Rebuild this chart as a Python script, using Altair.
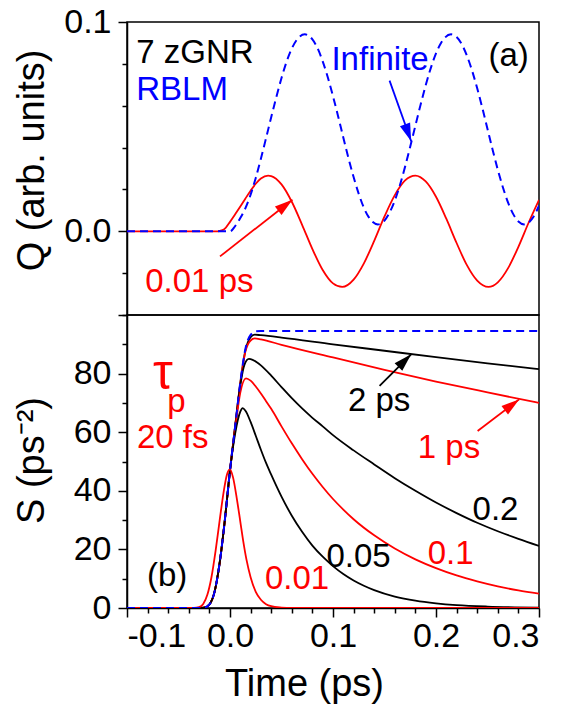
import altair as alt
import pandas as pd

FONT = "Liberation Sans"
RED = "#ff0000"
BLUE = "#0000ff"
BLACK = "#000000"

# ---------------- data ----------------
# Panel (a): Q (arb. units) vs time (ps)
q_red_t = [-0.1, -0.02, -0.012, -0.008, -0.004, 0.0, 0.005, 0.01, 0.015, 0.02, 0.025, 0.03,
           0.037, 0.04, 0.05, 0.06, 0.07, 0.08, 0.09, 0.1, 0.109, 0.12, 0.13, 0.14, 0.15,
           0.16, 0.17, 0.18, 0.19, 0.2, 0.21, 0.22, 0.23, 0.24, 0.251, 0.26, 0.27, 0.28,
           0.29, 0.3]
q_red_v = [0.0, 0.0, 0.0, 0.0004, 0.0018, 0.0045, 0.0081, 0.0118, 0.0157, 0.0194, 0.0227,
           0.0252, 0.0266, 0.0264, 0.0224, 0.0141, 0.0031, -0.0085, -0.0185, -0.0249,
           -0.0266, -0.0231, -0.0153, -0.0046, 0.0071, 0.0173, 0.0243, 0.0266, 0.0238,
           0.0165, 0.0060, -0.0056, -0.0162, -0.0236, -0.0266, -0.0244, -0.0176, -0.0074,
           0.0042, 0.0150]

q_blue_t = [-0.1, 0.0, 0.005, 0.01, 0.015, 0.02, 0.025, 0.03, 0.035, 0.04, 0.045, 0.05,
            0.055, 0.06, 0.065, 0.0726, 0.08, 0.085, 0.09, 0.095, 0.1, 0.105, 0.11, 0.115,
            0.12, 0.125, 0.13, 0.135, 0.1436, 0.15, 0.155, 0.16, 0.165, 0.17, 0.175, 0.18,
            0.185, 0.19, 0.195, 0.2, 0.205, 0.2146, 0.22, 0.225, 0.23, 0.235, 0.24, 0.245,
            0.25, 0.255, 0.26, 0.265, 0.27, 0.275, 0.28, 0.2856, 0.29, 0.295, 0.3]
q_blue_v = [0.0, 0.0, 0.0025, 0.0063, 0.0111, 0.0175, 0.0255, 0.0347, 0.0445, 0.0545,
            0.0642, 0.0732, 0.0811, 0.0873, 0.0916, 0.0941, 0.0917, 0.0875, 0.0812, 0.0735,
            0.0645, 0.0549, 0.0448, 0.0350, 0.0259, 0.0179, 0.0112, 0.0065, 0.0033, 0.0051,
            0.0090, 0.0147, 0.0221, 0.0309, 0.0405, 0.0505, 0.0604, 0.0698, 0.0781, 0.0850,
            0.0901, 0.0941, 0.0928, 0.0894, 0.0839, 0.0768, 0.0683, 0.0589, 0.0489, 0.0389,
            0.0294, 0.0209, 0.0137, 0.0082, 0.0047, 0.0033, 0.0042, 0.0072, 0.0122]

# Panel (b): S (ps^-2) vs time (ps)
s_inf_t = [-0.1, -0.03, -0.025, -0.02, -0.015, -0.01, -0.005, 0.0, 0.005, 0.01, 0.015,
           0.02, 0.025, 0.03, 0.3]
s_inf_v = [0.0, 0.0, 0.1, 1.2, 5.5, 15.5, 30.0, 47.0, 62.0, 77.0, 88.5, 93.2, 94.4, 94.5,
           94.5]

s_2ps_t = [-0.1, -0.03, -0.025, -0.02, -0.015, -0.01, -0.005, 0.0, 0.005, 0.01, 0.015,
           0.02, 0.024, 0.03, 0.05, 0.1, 0.15, 0.2, 0.25, 0.3]
s_2ps_v = [0.0, 0.0, 0.1, 1.2, 5.5, 15.5, 30.0, 47.0, 62.0, 76.8, 88.0, 92.4, 93.3, 93.1,
           92.3, 90.0, 87.8, 85.6, 83.5, 81.5]

s_1ps_t = [-0.1, -0.03, -0.025, -0.02, -0.015, -0.01, -0.005, 0.0, 0.005, 0.01, 0.015,
           0.02, 0.024, 0.03, 0.05, 0.1, 0.15, 0.2, 0.25, 0.3]
s_1ps_v = [0.0, 0.0, 0.1, 1.2, 5.5, 15.5, 30.0, 47.0, 62.0, 76.6, 87.6, 91.3, 92.0, 91.7,
           89.8, 85.5, 81.3, 77.3, 73.6, 70.0]

s_02_t = [-0.1, -0.03, -0.025, -0.02, -0.015, -0.01, -0.005, 0.0, 0.005, 0.01, 0.014,
          0.0184, 0.022, 0.026, 0.03, 0.04, 0.05, 0.06, 0.07, 0.08, 0.09, 0.1, 0.12, 0.14,
          0.16, 0.18, 0.2, 0.22, 0.24, 0.26, 0.28, 0.3]
s_02_v = [0.0, 0.0, 0.1, 1.2, 5.5, 15.5, 30.0, 47.0, 61.8, 76.0, 83.0, 85.0, 84.7, 83.9,
          82.8, 79.3, 75.4, 71.6, 68.1, 64.9, 62.0, 59.0, 53.8, 49.0, 44.3, 40.0, 36.0,
          32.4, 29.1, 26.2, 23.6, 21.2]

s_01_t = [-0.1, -0.03, -0.025, -0.02, -0.015, -0.01, -0.005, 0.0, 0.005, 0.01, 0.0155,
          0.02, 0.025, 0.03, 0.035, 0.04, 0.05, 0.06, 0.07, 0.08, 0.09, 0.1, 0.11, 0.12,
          0.14, 0.16, 0.18, 0.2, 0.22, 0.24, 0.26, 0.28, 0.3]
s_01_v = [0.0, 0.0, 0.1, 1.2, 5.5, 15.5, 30.0, 47.0, 61.0, 73.5, 78.4, 77.6, 75.6, 73.2,
          70.6, 68.0, 62.0, 56.2, 50.8, 45.8, 41.3, 37.2, 33.6, 30.3, 24.8, 20.3, 16.6,
          13.6, 11.1, 9.1, 7.4, 6.0, 4.9]

s_005_t = [-0.1, -0.03, -0.025, -0.02, -0.015, -0.01, -0.005, 0.0, 0.005, 0.01, 0.0123,
           0.015, 0.02, 0.025, 0.03, 0.035, 0.04, 0.05, 0.06, 0.07, 0.08, 0.09, 0.1, 0.11,
           0.12, 0.13, 0.14, 0.16, 0.18, 0.2, 0.22, 0.25, 0.3]
s_005_v = [0.0, 0.0, 0.1, 1.2, 5.5, 15.5, 30.0, 47.0, 59.5, 67.0, 68.2, 67.3, 63.5, 58.8,
           54.0, 49.5, 45.5, 38.0, 31.5, 26.0, 21.3, 17.5, 14.3, 11.6, 9.4, 7.6, 6.1, 3.9,
           2.5, 1.6, 1.0, 0.5, 0.15]

s_001_t = [-0.1, -0.035, -0.03, -0.026, -0.022, -0.018, -0.014, -0.01, -0.006, -0.003, 0.0,
           0.003, 0.0065, 0.01, 0.013, 0.016, 0.02, 0.025, 0.03, 0.035, 0.04, 0.05, 0.06,
           0.3]
s_001_v = [0.0, 0.0, 0.3, 1.4, 4.5, 10.5, 19.5, 30.0, 40.0, 45.5, 47.3, 44.5, 37.6, 29.5,
           22.5, 16.5, 10.5, 5.5, 2.8, 1.3, 0.6, 0.15, 0.0, 0.0]

# tick values
x_major = [-0.1, 0.0, 0.1, 0.2, 0.3]
x_minor = [-0.08, -0.06, -0.04, -0.02, 0.02, 0.04, 0.06, 0.08, 0.12, 0.14, 0.16, 0.18,
           0.22, 0.24, 0.26, 0.28]
q_major = [0.0, 0.1]
q_minor = [-0.04, -0.02, 0.02, 0.04, 0.06, 0.08]
s_major = [0, 20, 40, 60, 80]
s_top = [100]
s_minor = [10, 30, 50, 70, 90]

# annotations (data coordinates)
a_text = ["7 zGNR", "RBLM", "Infinite", "(a)", "0.01 ps"]
a_t = [-0.091, -0.091, 0.0985, 0.251, -0.0823]
a_v = [0.0803, 0.0626, 0.0773, 0.079, -0.0292]
a_col = [BLACK, BLUE, BLUE, BLACK, RED]

b_text = ["20 fs", "(b)", "0.01", "0.05", "0.1", "0.2", "2 ps", "1 ps", "p"]
b_t = [-0.0903, -0.0806, 0.0339, 0.0936, 0.192, 0.2355, 0.1145, 0.1823, -0.061]
b_v = [54.7, 7.4, 6.4, 13.9, 14.9, 30.0, 67.2, 51.3, 67.0]
b_col = [RED, BLACK, RED, BLACK, RED, BLACK, BLACK, RED, RED]

tau_text = ["\u03c4"]
tau_t = [-0.0748]
tau_v = [74.6]

# arrows: tail (t0, v0) -> head (t1, v1)
qa_t0 = [-0.0097, 0.1549]
qa_v0 = [-0.012, 0.072]
qa_t1 = [0.0606, 0.1759]
qa_v1 = [0.0151, 0.043]
qa_col = [RED, BLUE]
qa_ang = [52, 160]

sa_t0 = [0.1452, 0.2404]
sa_v0 = [75.8, 60.4]
sa_t1 = [0.1759, 0.2807]
sa_v1 = [86.6, 71.2]
sa_col = [BLACK, RED]
sa_ang = [45, 53]

# ---------------- chart ----------------
W, H = 412, 293
XS = alt.Scale(domain=[-0.1, 0.3], nice=False, zero=False)
QS = alt.Scale(domain=[-0.04, 0.1], nice=False, zero=False)
SS = alt.Scale(domain=[0, 100], nice=False, zero=False)
HEAD = "M0,0L-0.3,1L0.3,1Z"


def line(t, v, color, ys, dash=None, width=1.8):
    kw = dict(color=color, strokeWidth=width, interpolate="monotone", clip=True)
    if dash:
        kw["strokeDash"] = dash
    return alt.Chart(pd.DataFrame({"t": t, "v": v})).mark_line(**kw).encode(
        x=alt.X("t:Q", scale=XS, axis=None),
        y=alt.Y("v:Q", scale=ys, axis=None),
    )


def texts(txt, t, v, col, ys, size=33):
    layers = []
    for s, tt, vv, c in zip(txt, t, v, col):
        layers.append(
            alt.Chart(pd.DataFrame({"t": [tt], "v": [vv], "s": [s]}))
            .mark_text(font=FONT, fontSize=size, align="left", baseline="alphabetic", color=c)
            .encode(x=alt.X("t:Q", scale=XS, axis=None),
                    y=alt.Y("v:Q", scale=ys, axis=None), text="s:N")
        )
    return layers


def arrows(t0, v0, t1, v1, col, ang, ys):
    layers = []
    for a, b, c, d, cl, an in zip(t0, v0, t1, v1, col, ang):
        d1 = pd.DataFrame({"t": [a], "v": [b], "t2": [c], "v2": [d]})
        layers.append(alt.Chart(d1).mark_rule(color=cl, strokeWidth=1.8).encode(
            x=alt.X("t:Q", scale=XS, axis=None), y=alt.Y("v:Q", scale=ys, axis=None),
            x2="t2:Q", y2="v2:Q"))
        layers.append(alt.Chart(d1).mark_point(shape=HEAD, size=1296, angle=an, filled=True,
                                                color=cl, opacity=1, strokeWidth=0).encode(
            x=alt.X("t2:Q", scale=XS, axis=None), y=alt.Y("v2:Q", scale=ys, axis=None)))
    return layers


common_axis = dict(grid=False, domainColor=BLACK, domainWidth=1.5, tickColor=BLACK,
                   tickWidth=1.5, labelColor=BLACK, labelFont=FONT, titleFont=FONT,
                   titleColor=BLACK, titleFontWeight="normal")


def axis_layer(ys, xaxis, yaxis, yval):
    return alt.Chart(pd.DataFrame({"t": [0.0], "v": [yval]})).mark_point(opacity=0).encode(
        x=alt.X("t:Q", scale=XS, axis=xaxis),
        y=alt.Y("v:Q", scale=ys, axis=yaxis),
    )


def tick_axis(orient, vals, size):
    return alt.Axis(orient=orient, values=vals, labels=False, tickSize=size, domain=False,
                    title=None, **common_axis)


q_axis_major = alt.Axis(orient="left", values=q_major, format=".1f", labelFontSize=34,
                        tickSize=9, labelPadding=7, title="Q (arb. units)", titleFontSize=38,
                        titleAngle=270, titleX=-84, titleY=138, titleAlign="center",
                        titleBaseline="alphabetic", **common_axis)

s_axis_major = alt.Axis(orient="left", values=s_major, labelFontSize=34, tickSize=9,
                        labelPadding=7, title="S (ps\u207b\u00b2)", titleFontSize=38,
                        titleAngle=270, titleX=-84, titleY=145, titleAlign="center",
                        titleBaseline="alphabetic", **common_axis)

x_axis_major = alt.Axis(orient="bottom", values=x_major, labelFontSize=34, tickSize=9,
                        labelPadding=2,
                        labelExpr="replace(format(datum.value, '.1f'), '\u2212', '-')",
                        title="Time (ps)", titleFontSize=38, titlePadding=12, titleX=177,
                        titleAlign="center", **common_axis)

top_layers = [
    axis_layer(QS, None, q_axis_major, 0.0),
    axis_layer(QS, None, tick_axis("left", q_minor, 5), 0.0),
    line(q_red_t, q_red_v, RED, QS),
    line(q_blue_t, q_blue_v, BLUE, QS, dash=[8, 5], width=2),
] + texts(a_text, a_t, a_v, a_col, QS) + arrows(qa_t0, qa_v0, qa_t1, qa_v1, qa_col, qa_ang, QS)

top = alt.layer(*top_layers).resolve_axis(x="independent", y="independent").properties(
    width=W, height=H)

bottom_layers = [
    axis_layer(SS, x_axis_major, s_axis_major, 50.0),
    axis_layer(SS, tick_axis("bottom", x_minor, 5), tick_axis("left", s_minor, 5), 50.0),
    axis_layer(SS, None, tick_axis("left", s_top, 9), 50.0),
    line(s_2ps_t, s_2ps_v, BLACK, SS),
    line(s_1ps_t, s_1ps_v, RED, SS),
    line(s_02_t, s_02_v, BLACK, SS),
    line(s_01_t, s_01_v, RED, SS),
    line(s_005_t, s_005_v, BLACK, SS),
    line(s_001_t, s_001_v, RED, SS),
    line(s_inf_t, s_inf_v, BLUE, SS, dash=[8, 5], width=2),
] + texts(b_text, b_t, b_v, b_col, SS) + texts(tau_text, tau_t, tau_v, [RED], SS, size=50) \
  + arrows(sa_t0, sa_v0, sa_t1, sa_v1, sa_col, sa_ang, SS)

bottom = alt.layer(*bottom_layers).resolve_axis(x="independent", y="independent").properties(
    width=W, height=H)

chart = (
    alt.vconcat(top, bottom, spacing=0, bounds="flush")
    .properties(padding={"left": 4, "top": -4, "right": 0, "bottom": 0},
                background="white")
    .configure_view(stroke=BLACK, strokeWidth=1.5)
)

chart.save("out.html", embed_options={"renderer": "svg", "actions": False})
